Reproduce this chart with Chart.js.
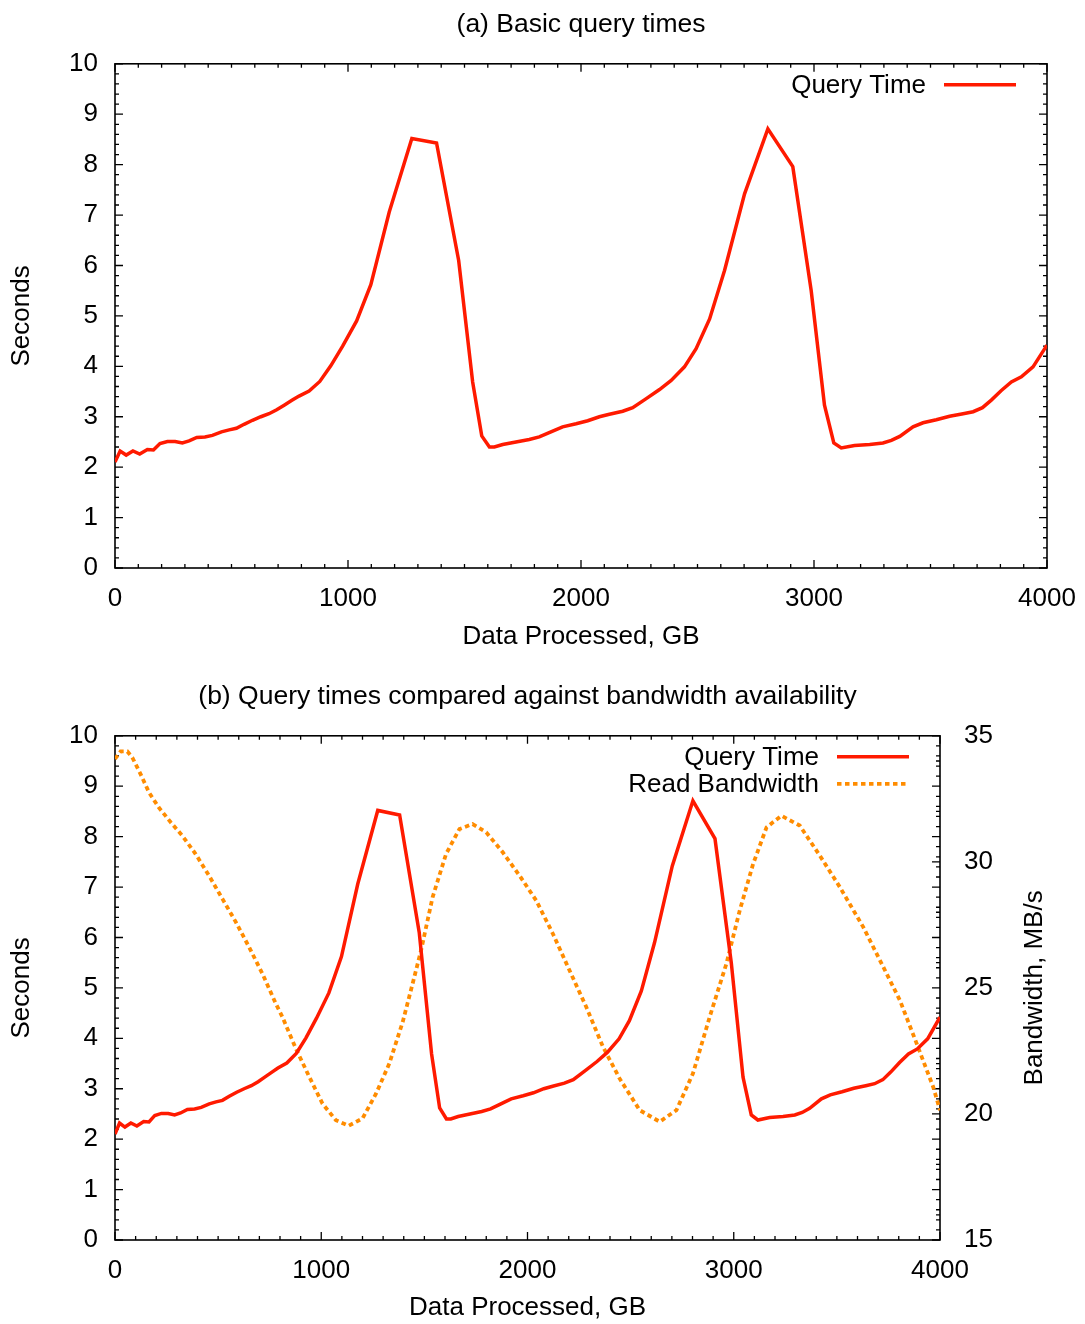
<!DOCTYPE html>
<html>
<head>
<meta charset="utf-8">
<script src="https://cdn.jsdelivr.net/npm/chart.js@4.4.1/dist/chart.umd.min.js"></script>
<style>
  body { margin: 0; background: #fff; }
  canvas { display: block; }
</style>
</head>
<body>
<canvas id="chartA" width="1085" height="662"></canvas>
<canvas id="chartB" width="1085" height="662"></canvas>
<script>
// query time samples (GB processed -> seconds)
const gbProcessed = [0, 22, 48, 77, 106, 139, 165, 193, 225, 258, 289, 318, 351, 386, 418, 457, 490, 521, 554, 590,
  626, 661, 694, 726, 761, 790, 833, 879, 926, 977, 1037, 1098, 1177, 1274, 1380, 1475, 1535, 1574, 1607, 1628,
  1664, 1721, 1778, 1821, 1871, 1921, 1979, 2029, 2079, 2122, 2179, 2222, 2280, 2337, 2387, 2444, 2494, 2552, 2616, 2702,
  2802, 2909, 2988, 3045, 3085, 3117, 3174, 3239, 3296, 3332, 3368, 3425, 3468, 3525, 3582, 3640, 3683, 3723, 3761, 3804,
  3847, 3890, 3940, 4000];
const queryTime = [2.10, 2.32, 2.24, 2.32, 2.26, 2.35, 2.34, 2.47, 2.51, 2.51, 2.48, 2.52, 2.59, 2.60, 2.63, 2.70, 2.74, 2.77, 2.85, 2.93,
  3.00, 3.06, 3.14, 3.23, 3.33, 3.41, 3.51, 3.70, 4.01, 4.40, 4.90, 5.62, 7.06, 8.52, 8.43, 6.10, 3.69, 2.62, 2.40, 2.40,
  2.45, 2.50, 2.55, 2.60, 2.70, 2.80, 2.86, 2.92, 3.00, 3.05, 3.11, 3.18, 3.36, 3.54, 3.72, 3.99, 4.35, 4.94, 5.90, 7.42,
  8.71, 7.96, 5.50, 3.23, 2.48, 2.38, 2.43, 2.45, 2.48, 2.53, 2.61, 2.80, 2.88, 2.94, 3.01, 3.06, 3.10, 3.18, 3.33, 3.52,
  3.69, 3.79, 3.99, 4.42];

// read bandwidth samples (GB processed -> MB/s)
const bwGb = [0, 27, 60, 84, 124, 165, 214, 270, 326, 391, 456, 521, 586, 650, 715, 780, 812, 877, 942, 1006,
  1071, 1133, 1200, 1266, 1330, 1395, 1443, 1484, 1540, 1605, 1670, 1734, 1800, 1880, 1961, 2042, 2123, 2204, 2285, 2366,
  2447, 2544, 2641, 2722, 2802, 2883, 2964, 3029, 3094, 3159, 3231, 3320, 3417, 3515, 3628, 3725, 3806, 3887, 3967, 4000];
const readBandwidth = [34.08, 34.38, 34.38, 34.14, 33.48, 32.75, 32.14, 31.57, 31.04, 30.31, 29.45, 28.53, 27.61, 26.62, 25.56, 24.37, 23.84, 22.59, 21.47, 20.41,
  19.75, 19.53, 19.82, 20.81, 22.00, 23.65, 25.17, 26.49, 28.60, 30.31, 31.30, 31.50, 31.17, 30.38, 29.46, 28.47, 27.15, 25.69, 24.24, 22.66,
  21.40, 20.15, 19.69, 20.15, 21.60, 23.84, 25.95, 28.07, 29.92, 31.37, 31.83, 31.44, 30.25, 28.99, 27.41, 25.83, 24.50, 22.79, 21.07, 20.15];

const xRange = [0, 4000];
const secRange = [0, 10];
const bwRange = [15, 35];
const bwAxisTitle = 'Bandwidth, MB/s';

const FONT = '"Liberation Sans", Arial, Helvetica, sans-serif';
Chart.defaults.font.family = FONT;
Chart.defaults.font.size = 26;
Chart.defaults.color = '#000';

const pts = (xs, ys) => xs.map((x, i) => ({x: x, y: ys[i]}));

// gnuplot-like frame: border, inward ticks on all sides
const frameTicks = {
  id: 'frameTicks',
  beforeDatasetsDraw(chart) {
    const {ctx, chartArea: a, scales} = chart;
    ctx.save();
    ctx.strokeStyle = '#000';
    ctx.lineWidth = 1.3;
    ctx.beginPath();
    for (let i = 0; i <= 40; i++) {
      const px = scales.x.getPixelForValue(i * 100);
      const len = i % 10 === 0 ? 8 : 4;
      ctx.moveTo(px, a.bottom); ctx.lineTo(px, a.bottom - len);
      ctx.moveTo(px, a.top); ctx.lineTo(px, a.top + len);
    }
    for (let i = 0; i <= 50; i++) {
      const py = scales.y.getPixelForValue(i * 0.2);
      const len = i % 5 === 0 ? 8 : 4;
      ctx.moveTo(a.left, py); ctx.lineTo(a.left + len, py);
      ctx.moveTo(a.right, py); ctx.lineTo(a.right - len, py);
    }
    if (scales.y2) {
      for (let i = 0; i <= 20; i++) {
        const py = scales.y2.getPixelForValue(bwRange[0] + i);
        const len = i % 5 === 0 ? 8 : 4;
        ctx.moveTo(a.right, py); ctx.lineTo(a.right - len, py);
      }
    }
    ctx.stroke();
    ctx.lineWidth = 1.6;
    ctx.strokeRect(a.left, a.top, a.right - a.left, a.bottom - a.top);
    ctx.restore();
  },
  afterDraw(chart) {
    const {ctx, chartArea: a} = chart;
    ctx.save();
    ctx.font = '26px ' + FONT;
    ctx.textAlign = 'right';
    ctx.textBaseline = 'middle';
    chart.data.datasets.forEach((ds, i) => {
      const y = a.top + 21 + i * 27;
      ctx.fillStyle = '#000';
      ctx.fillText(ds.label, a.right - 121, y + 1);
      ctx.strokeStyle = ds.borderColor;
      ctx.lineWidth = ds.borderWidth;
      ctx.setLineDash(ds.borderDash || []);
      ctx.beginPath();
      ctx.moveTo(a.right - 103, y);
      ctx.lineTo(a.right - 31, y);
      ctx.stroke();
    });
    ctx.setLineDash([]);
    if (chart.scales.y2) {
      ctx.translate(chart.width - 50, (a.top + a.bottom) / 2);
      ctx.rotate(-Math.PI / 2);
      ctx.textAlign = 'center';
      ctx.fillText(bwAxisTitle, 0, 0);
    }
    ctx.restore();
  }
};

const queryDataset = {
  label: 'Query Time',
  data: pts(gbProcessed, queryTime),
  borderColor: '#ff1a00',
  borderWidth: 3.5,
  pointRadius: 0,
  tension: 0,
  yAxisID: 'y'
};

function xScale(height, titlePad) {
  return {
    type: 'linear', min: xRange[0], max: xRange[1],
    grid: {display: false, drawTicks: false, tickLength: 0},
    border: {display: false},
    ticks: {stepSize: 1000, padding: 15, maxRotation: 0, callback: v => String(v)},
    title: {display: true, text: 'Data Processed, GB', padding: titlePad},
    afterFit(s) { s.height = height; s.paddingLeft = 0; s.paddingRight = 0; }
  };
}
function yScale() {
  return {
    type: 'linear', min: secRange[0], max: secRange[1],
    grid: {display: false, drawTicks: false, tickLength: 0},
    border: {display: false},
    ticks: {stepSize: 1, padding: 17},
    title: {display: true, text: 'Seconds', padding: 6},
    afterFit(s) { s.width = 115; }
  };
}

new Chart(document.getElementById('chartA'), {
  type: 'line',
  data: {datasets: [Object.assign({}, queryDataset)]},
  options: {
    responsive: false,
    animation: false,
    layout: {padding: {right: 38}},
    plugins: {
      legend: {display: false},
      tooltip: {enabled: false},
      title: {display: true, text: '(a) Basic query times', fullSize: false,
        font: {size: 26.5, weight: 'normal'}, padding: {top: 9, bottom: 23}}
    },
    scales: {x: xScale(94, 10), y: yScale()}
  },
  plugins: [frameTicks]
});

new Chart(document.getElementById('chartB'), {
  type: 'line',
  data: {
    datasets: [
      Object.assign({}, queryDataset, {data: pts(gbProcessed, queryTime)}),
      {
        label: 'Read Bandwidth',
        data: pts(bwGb, readBandwidth),
        borderColor: '#ff8c00',
        borderWidth: 3.8,
        borderDash: [4.5, 3.5],
        pointRadius: 0,
        tension: 0,
        yAxisID: 'y2'
      }
    ]
  },
  options: {
    responsive: false,
    animation: false,
    plugins: {
      legend: {display: false},
      tooltip: {enabled: false},
      title: {display: true, text: '(b) Query times compared against bandwidth availability', fullSize: false,
        font: {size: 26.5, weight: 'normal'}, padding: {top: 19, bottom: 23}}
    },
    scales: {
      x: xScale(84, 1),
      y: yScale(),
      y2: {
        type: 'linear', position: 'right', min: bwRange[0], max: bwRange[1],
        grid: {display: false, drawTicks: false, tickLength: 0},
        border: {display: false},
        ticks: {stepSize: 5, padding: 24},
        afterFit(s) { s.width = 145; }
      }
    }
  },
  plugins: [frameTicks]
});
</script>
</body>
</html>
